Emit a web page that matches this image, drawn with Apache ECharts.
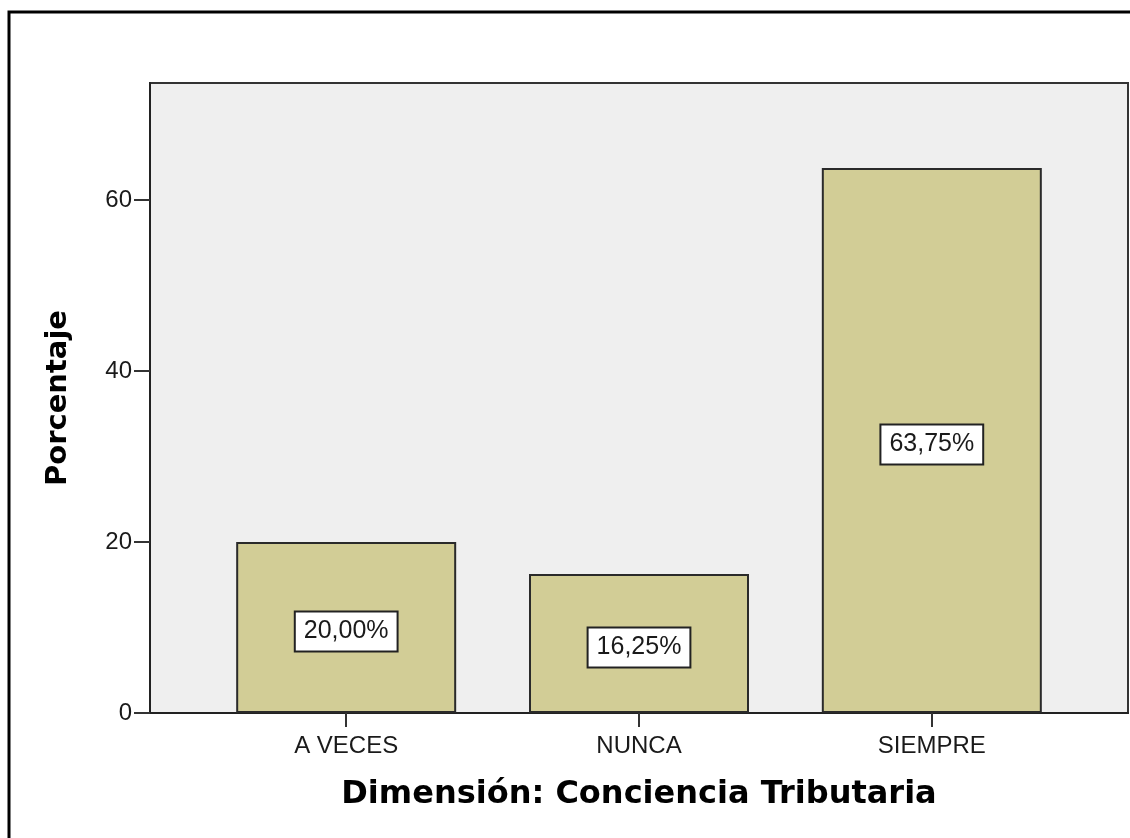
<!DOCTYPE html>
<html>
<head>
<meta charset="utf-8">
<script src="https://cdn.jsdelivr.net/npm/echarts@6/dist/echarts.min.js"></script>
<style>
  html, body { margin: 0; padding: 0; background: #fff; }
  #main { width: 1130px; height: 838px; }
</style>
</head>
<body>
<div id="main"></div>
<script>
// datos
var categorias = ['A VECES', 'NUNCA', 'SIEMPRE'];
var porcentajes = [20.00, 16.25, 63.75];
var yTicks = [0, 20, 40, 60];

var posiciones = categorias.map(function (c, i) { return i; });

var chart = echarts.init(document.getElementById('main'));

var option = {
  backgroundColor: '#ffffff',
  animation: false,
  // marco exterior
  graphic: [{
    type: 'rect',
    shape: { x: 9, y: 12, width: 1200, height: 900 },
    style: { fill: 'none', stroke: '#000', lineWidth: 3 },
    silent: true
  }],
  grid: {
    left: 150,
    right: 2,
    top: 83,
    bottom: 125,
    show: true,
    backgroundColor: '#efefef',
    borderColor: '#333',
    borderWidth: 2
  },
  xAxis: {
    type: 'value',
    min: -0.67,
    max: 2.67,
    name: 'Dimensión: Conciencia Tributaria',
    nameLocation: 'middle',
    nameGap: 66,
    nameTextStyle: {
      fontFamily: 'DejaVu Sans',
      fontWeight: 'bold',
      fontSize: 32,
      color: '#000'
    },
    axisLine: { show: true, onZero: false, lineStyle: { color: '#222', width: 2 } },
    axisTick: {
      show: true,
      length: 14,
      customValues: posiciones,
      lineStyle: { color: '#333', width: 2 }
    },
    axisLabel: {
      customValues: posiciones,
      formatter: function (v) { return categorias[Math.round(v)]; },
      margin: 21,
      fontFamily: 'Liberation Sans',
      fontSize: 24,
      color: '#1a1a1a'
    },
    splitLine: { show: false }
  },
  yAxis: {
    type: 'value',
    min: 0,
    max: 73.7,
    interval: 20,
    name: 'Porcentaje',
    nameLocation: 'middle',
    nameGap: 77,
    nameTextStyle: {
      fontFamily: 'DejaVu Sans',
      fontWeight: 'bold',
      fontSize: 29,
      color: '#000'
    },
    axisLine: { show: true, onZero: false, lineStyle: { color: '#222', width: 2 } },
    axisTick: {
      show: true,
      length: 16,
      customValues: yTicks,
      lineStyle: { color: '#333', width: 2 }
    },
    axisLabel: {
      customValues: yTicks,
      margin: 18,
      fontFamily: 'Liberation Sans',
      fontSize: 24,
      color: '#1a1a1a'
    },
    splitLine: { show: false }
  },
  series: [{
    type: 'bar',
    barWidth: 220,
    data: porcentajes.map(function (v, i) { return [posiciones[i], v]; }),
    itemStyle: {
      color: '#d2cd96',
      borderColor: '#2a2a2a',
      borderWidth: 2
    },
    label: {
      show: true,
      position: 'inside',
      offset: [0, 4],
      formatter: function (p) {
        return p.value[1].toFixed(2).replace('.', ',') + '%';
      },
      fontFamily: 'Liberation Sans',
      fontSize: 25,
      color: '#1a1a1a',
      backgroundColor: '#fff',
      borderColor: '#222',
      borderWidth: 2,
      padding: [7, 8, 6, 8]
    }
  }]
};

chart.setOption(option);
</script>
</body>
</html>
